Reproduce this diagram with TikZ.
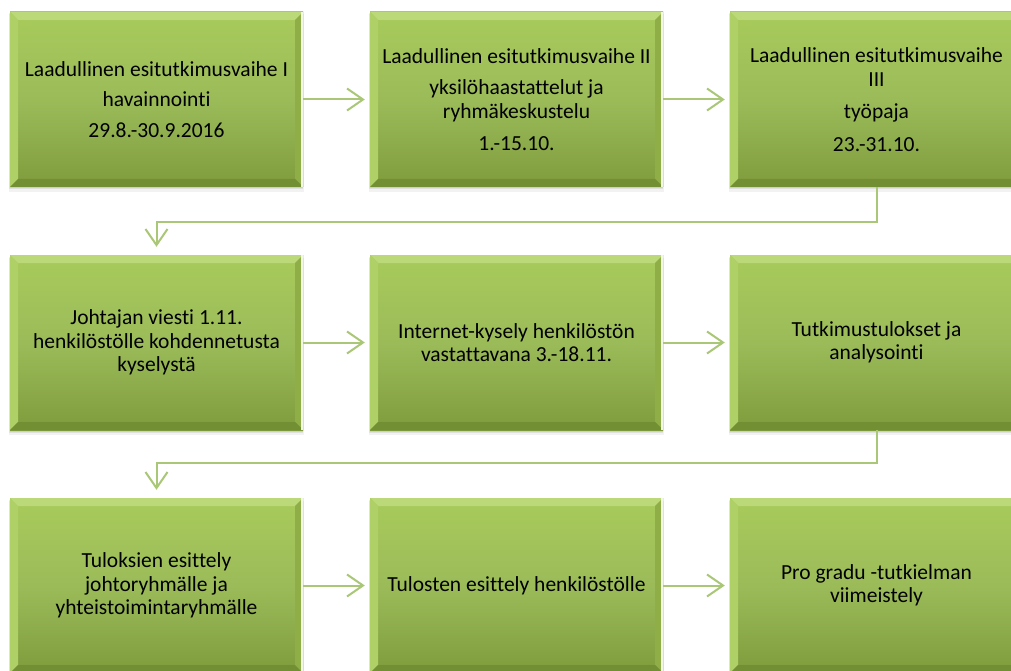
\documentclass[tikz,border=0pt]{standalone}
\usepackage{fontspec}
\setmainfont[Ligatures=NoCommon]{Carlito}
\usetikzlibrary{arrows.meta,calc}
\definecolor{gtop}{HTML}{A8CB5B}
\definecolor{gmid}{HTML}{9BBB59}
\definecolor{gbot}{HTML}{7F9C3C}
\definecolor{bevtop}{HTML}{BCD97A}
\definecolor{bevleft}{HTML}{AFD066}
\definecolor{bevright}{HTML}{8FAE48}
\definecolor{bevbot}{HTML}{738F33}
\definecolor{lineg}{HTML}{A9C777}
\tikzset{
  gbox/.style={rectangle, minimum width=293pt, minimum height=175pt, inner sep=0pt,
    top color=gtop, bottom color=gbot, middle color=gmid, align=center,
    font=\fontsize{21.5}{23.5}\selectfont, text=black,
    path picture={
      \coordinate (pnw) at (path picture bounding box.north west);
      \coordinate (pne) at (path picture bounding box.north east);
      \coordinate (psw) at (path picture bounding box.south west);
      \coordinate (pse) at (path picture bounding box.south east);
      \fill[bevtop] (pnw) -- (pne) -- ($(pne)+(-8,8)$) -- ($(pnw)+(8,8)$) -- cycle;
      \fill[bevleft] (pnw) -- ($(pnw)+(8,8)$) -- ($(psw)+(8,-8)$) -- (psw) -- cycle;
      \fill[bevright] (pne) -- ($(pne)+(-8,8)$) -- ($(pse)+(-8,-8)$) -- (pse) -- cycle;
      \fill[bevbot] (psw) -- ($(psw)+(8,-8)$) -- ($(pse)+(-8,-8)$) -- (pse) -- cycle;
      \fill[white!85!gtop] ($(pne)+(-2.5,0)$) rectangle (pse);
    }},
  conn/.style={draw=lineg, line width=2pt, -{Straight Barb[length=16pt,width=22pt,line width=2pt]}},
}
\begin{document}
\begin{tikzpicture}[x=1pt,y=-1pt]
\useasboundingbox (0,0) rectangle (1011,671);
\fill[white] (0,0) rectangle (1011,671);
% shadows
\foreach \cx/\cy in {156.5/99.5,516.5/99.5,876.5/99.5,156.5/342.5,516.5/342.5,876.5/342.5,156.5/585.5,516.5/585.5,876.5/585.5}{
  \fill[black,opacity=0.05] (\cx-148,\cy-85) rectangle (\cx+147,\cy+92);
  \fill[black,opacity=0.07] (\cx-147.5,\cy-86) rectangle (\cx+146.5,\cy+90);
  \fill[black,opacity=0.08] (\cx-147,\cy-87) rectangle (\cx+146,\cy+89);
}
\node[gbox] (b1) at (156.5,99.5) {Laadullinen esitutkimusvaihe I\\[7pt]havainnointi\\[7pt]29.8.-30.9.2016};
\node[gbox] (b2) at (516.5,99.5) {Laadullinen esitutkimusvaihe II\\[8pt]yksilöhaastattelut ja\\ryhmäkeskustelu\\[9pt]1.-15.10.};
\node[gbox] (b3) at (876.5,99.5) {Laadullinen esitutkimusvaihe\\III\\[9pt]työpaja\\[9pt]23.-31.10.};
\node[gbox] (b4) at (156.5,342.5) {Johtajan viesti 1.11.\\henkilöstölle kohdennetusta\\kyselystä};
\node[gbox] (b5) at (516.5,342.5) {Internet-kysely henkilöstön\\vastattavana 3.-18.11.};
\node[gbox] (b6) at (876.5,342.5) {Tutkimustulokset ja\\analysointi};
\node[gbox] (b7) at (156.5,585.5) {Tuloksien esittely\\johtoryhmälle ja\\yhteistoimintaryhmälle};
\node[gbox] (b8) at (516.5,585.5) {Tulosten esittely henkilöstölle};
\node[gbox] (b9) at (876.5,585.5) {Pro gradu -tutkielman\\viimeistely};
\draw[conn, shorten >=5pt] (b1) -- (b2);
\draw[conn, shorten >=5pt] (b2) -- (b3);
\draw[conn, shorten >=5pt] (b4) -- (b5);
\draw[conn, shorten >=5pt] (b5) -- (b6);
\draw[conn, shorten >=5pt] (b7) -- (b8);
\draw[conn, shorten >=5pt] (b8) -- (b9);
\draw[conn, shorten >=8pt] (b3.south) -- ++(0,35) -| (b4.north);
\draw[conn, shorten >=8pt] (b6.south) -- ++(0,33) -| (b7.north);
\end{tikzpicture}
\end{document}
